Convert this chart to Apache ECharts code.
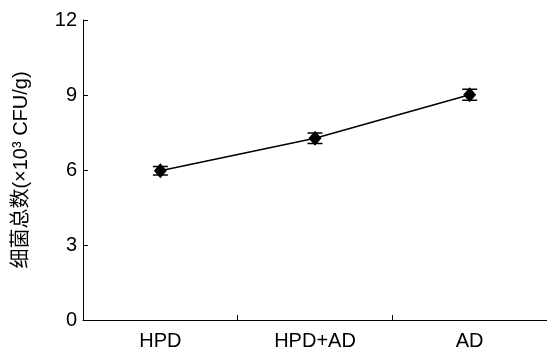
<!DOCTYPE html>
<html>
<head>
<meta charset="utf-8">
<script src="https://cdn.jsdelivr.net/npm/echarts@6/dist/echarts.min.js"></script>
<style>
  html, body { margin: 0; padding: 0; background: #fff; }
  #chart { width: 547px; height: 352px; }
</style>
</head>
<body>
<div id="chart"></div>
<script>
// 数据
const categories = ['HPD', 'HPD+AD', 'AD']
const counts     = [5.97, 7.27, 9.01]   // ×10³ CFU/g
const errors     = [0.17, 0.21, 0.22]
const yTicks     = [0, 3, 6, 9, 12]

const FONT = '"Liberation Sans", Arial, "Noto Sans CJK SC", sans-serif'
const chart = echarts.init(document.getElementById('chart'), null, { renderer: 'canvas' })

const errData = categories.map((c, i) => [i, counts[i] - errors[i], counts[i] + errors[i]])

chart.setOption({
  backgroundColor: '#fff',
  animation: false,
  grid: { left: 83, right: 0, top: 20, bottom: 32 },
  xAxis: {
    type: 'category', data: categories, boundaryGap: true,
    axisLine: { lineStyle: { color: '#000', width: 1 } },
    axisTick: { show: true, inside: true, length: 5, lineStyle: { color: '#000' } },
    axisLabel: { color: '#000', fontSize: 20, fontFamily: FONT, margin: 11 },
    splitLine: { show: false },
  },
  yAxis: {
    type: 'value', min: yTicks[0], max: yTicks[yTicks.length - 1], interval: 3,
    name: '细菌总数(×10³ CFU/g)', nameLocation: 'middle', nameGap: 52, nameRotate: 90,
    nameTextStyle: { color: '#000', fontSize: 20, fontFamily: FONT },
    axisLine: { show: true, lineStyle: { color: '#000', width: 1 } },
    axisTick: { show: true, inside: true, length: 5, lineStyle: { color: '#000' } },
    axisLabel: { color: '#000', fontSize: 20, fontFamily: FONT, margin: 6 },
    splitLine: { show: false },
  },
  series: [
    {
      type: 'line', data: counts, symbol: 'diamond', symbolSize: [13, 15],
      lineStyle: { color: '#000', width: 1.5 },
      itemStyle: { color: '#000' },
      z: 3,
    },
    {
      type: 'custom', data: errData, z: 4,
      renderItem: (params, api) => {
        const x = api.value(0)
        const lo = api.coord([x, api.value(1)])
        const hi = api.coord([x, api.value(2)])
        const hw = 7.5
        const style = { stroke: '#000', lineWidth: 1.5 }
        return {
          type: 'group',
          children: [
            { type: 'line', shape: { x1: lo[0], y1: lo[1], x2: hi[0], y2: hi[1] }, style },
            { type: 'line', shape: { x1: lo[0] - hw, y1: lo[1], x2: lo[0] + hw, y2: lo[1] }, style },
            { type: 'line', shape: { x1: hi[0] - hw, y1: hi[1], x2: hi[0] + hw, y2: hi[1] }, style },
          ],
        }
      },
    },
  ],
})
</script>
</body>
</html>
